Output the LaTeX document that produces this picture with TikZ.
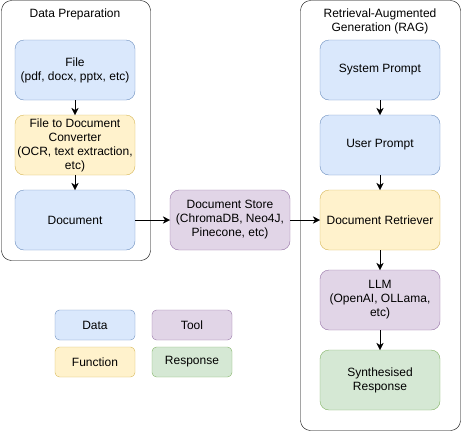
\documentclass[tikz,border=0pt]{standalone}
\usepackage{fontspec}
\setmainfont{Liberation Sans}
\usetikzlibrary{arrows.meta,backgrounds,positioning}
\definecolor{dataFill}{HTML}{DAE8FC}
\definecolor{dataLine}{HTML}{6C8EBF}
\definecolor{funcFill}{HTML}{FFF2CC}
\definecolor{funcLine}{HTML}{D6B656}
\definecolor{toolFill}{HTML}{E1D5E7}
\definecolor{toolLine}{HTML}{9673A6}
\definecolor{respFill}{HTML}{D5E8D4}
\definecolor{respLine}{HTML}{82B366}
\tikzset{->, % every edge is directed
>={Stealth[length=7pt,width=7pt,inset=2pt]}, % filled arrow heads
node distance=15pt, % gap between the stacked boxes
line width=1pt,
}

\begin{document}
\begin{tikzpicture}[x=1pt, y=-1pt, font=\fontsize{12pt}{14pt}\selectfont,
	box/.style={rounded corners=9pt, minimum width=120pt, minimum height=60pt, inner sep=0pt, outer sep=0pt, align=center, draw=#1Line, fill=#1Fill},
	key/.style={box=#1, rounded corners=4.5pt, minimum width=80pt, minimum height=30pt},
	group/.style={draw=black, rounded corners=10pt, inner sep=0pt, outer sep=0pt}]
\useasboundingbox (0,0) rectangle (461,432);
\node[box=data] (file) at (75,70) {File\\(pdf, docx, pptx, etc)};
\node[box=func, below=of file] (conv) {File to Document\\Converter\\(OCR, text extraction,\\etc)};
\node[box=data, below=of conv] (doc) {Document};
\node[box=tool, right=35pt of doc] (store) {Document Store\\(ChromaDB, Neo4J,\\Pinecone, etc)};
\node[box=data] (sys) at (380,70) {System Prompt};
\node[box=data, below=of sys] (user) {User Prompt};
\node[box=func, below=of user] (retr) {Document Retriever};
\node[box=tool, below=20pt of retr] (llm) {LLM\\(OpenAI, OLLama,\\etc)};
\node[box=resp, below=20pt of llm] (synth) {Synthesised\\Response};
% legend
\node[key=data] (kdata) at (95,325) {Data};
\node[key=tool, right=17pt of kdata] (ktool) {Tool};
\node[key=func, below=7pt of kdata] (kfunc) {Function};
\node[key=resp, below=7pt of ktool] (kresp) {Response};
\draw (file) edge (conv) (conv) edge (doc) (doc) edge (store) (store) edge (retr);
\draw (sys) edge (user) (user) edge (retr) (retr) edge (llm) (llm) edge (synth);
\begin{pgfonlayer}{background}
\node[group, minimum width=149pt, minimum height=260pt] (prep) at (76,130.5) {};
\node[group, minimum width=160pt, minimum height=430pt] (rag) at (380.5,215.5) {};
\end{pgfonlayer}
\node (prep title) at (75,14) {Data Preparation};
\node[align=center] (rag title) at (380,21) {Retrieval-Augmented\\Generation (RAG)};
\end{tikzpicture}
\end{document}
